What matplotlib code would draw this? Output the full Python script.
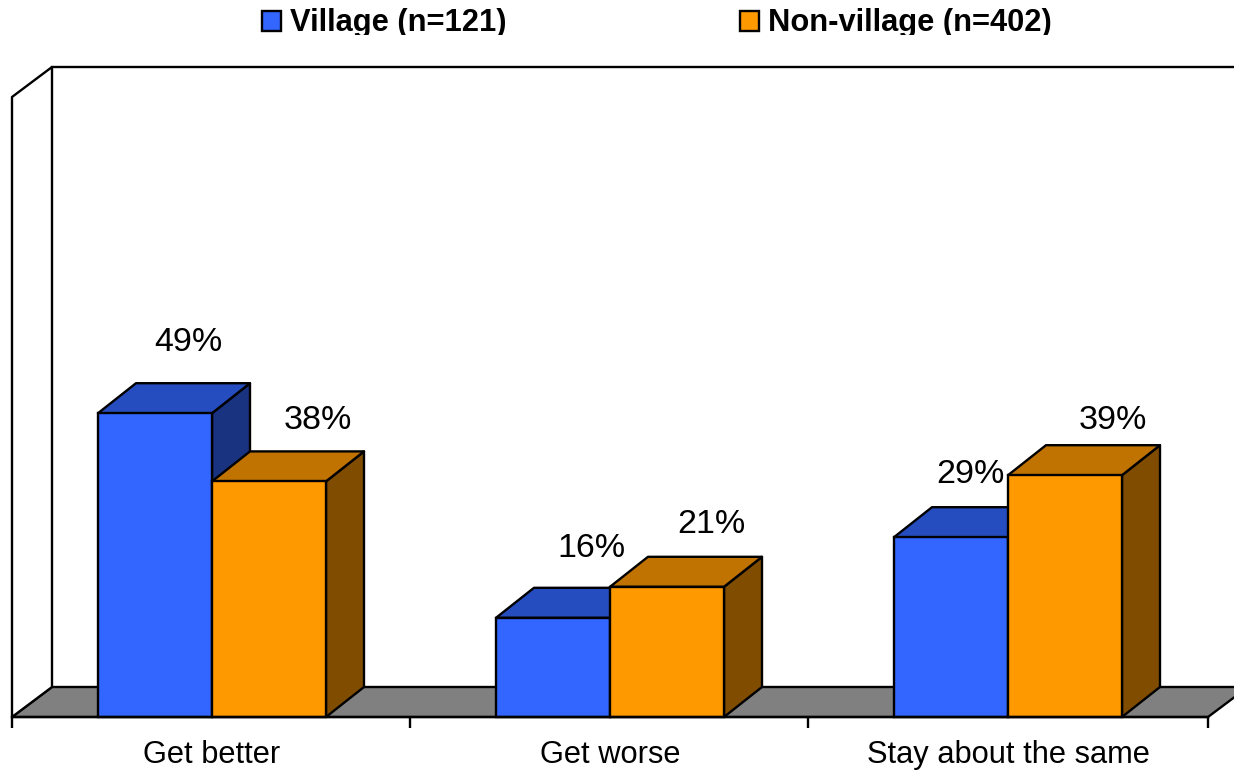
import matplotlib
matplotlib.use("Agg")
import matplotlib.pyplot as plt
import numpy as np
from matplotlib.patches import Polygon, Patch
from matplotlib.transforms import Bbox

categories = ["Get better", "Get worse", "Stay about the same"]
village = [49, 16, 29]
non_village = [38, 21, 39]
series_names = ["Village (n=121)", "Non-village (n=402)"]

W, H = 1234, 770
plt.rcParams["font.family"] = ["Liberation Sans", "DejaVu Sans"]
fig = plt.figure(figsize=(W / 100, H / 100), dpi=100)
ax = fig.add_axes([12 / W, (H - 717) / H, (1208 - 12) / W, (717 - 97) / H])

px_x = 1 / 398              # data units per pixel, x
px_y = 100 / (717 - 97)     # data units per pixel, y
x0, x1 = -200 * px_x, 996 * px_x
ax.set_xlim(x0, x1)
ax.set_ylim(0, 100)

LW = 1.7
wall_dx, wall_dy = 40 * px_x, 30 * px_y
bar_dx, bar_dy = 38 * px_x, 30 * px_y
bar_w = 114 * px_x


def face(points, color, z):
    ax.add_patch(Polygon(points, closed=True, facecolor=color, edgecolor="black",
                         linewidth=LW, clip_on=False, zorder=z, joinstyle="round"))


# floor and walls
face([(x0, 0), (x1, 0), (x1 + wall_dx, wall_dy), (x0 + wall_dx, wall_dy)], "#808080", 1)
face([(x0, 0), (x0 + wall_dx, wall_dy), (x0 + wall_dx, 100 + wall_dy), (x0, 100)], "white", 1)
ax.plot([x0 + wall_dx, x1 + wall_dx], [100 + wall_dy] * 2, color="black", lw=LW,
        clip_on=False, zorder=1)

# bars
colors = [("#3366FF", "#264DC0", "#1A3380"), ("#FF9900", "#C07300", "#804D00")]
positions = np.arange(len(categories))
label_offsets = [[(33, 71), (49, 61)], [(38, 69), (44, 62)], [(19, 63), (48, 55)]]

for s, (values, (front, top, side)) in enumerate(zip([village, non_village], colors)):
    offs = (s - 0.5) * bar_w
    z = 3 + s
    for i, v in enumerate(values):
        xl = positions[i] + offs - bar_w / 2
        xr = xl + bar_w
        face([(xr, 0), (xr + bar_dx, bar_dy), (xr + bar_dx, v + bar_dy), (xr, v)], side, z)
        face([(xl, v), (xr, v), (xr + bar_dx, v + bar_dy), (xl + bar_dx, v + bar_dy)], top, z)
    ax.bar(positions + offs, values, width=bar_w, color=front, edgecolor="black",
           linewidth=LW, clip_on=False, zorder=z, label=series_names[s])
    for i, v in enumerate(values):
        ax.annotate(f"{v}%", (positions[i] + offs, v),
                    xytext=label_offsets[i][s], textcoords="offset pixels",
                    ha="center", va="center", fontsize=24.5, color="black",
                    zorder=10, annotation_clip=False)

# axis
for name in ("top", "left", "right"):
    ax.spines[name].set_visible(False)
ax.spines["bottom"].set_linewidth(LW)
ax.spines["bottom"].set_zorder(6)
ax.patch.set_visible(False)
ax.set_yticks([])
ax.set_xticks([x0, x0 + 398 * px_x, x0 + 796 * px_x, x1])
ax.set_xticklabels([])
ax.set_xticks(positions, labels=categories, minor=True)
ax.tick_params(axis="x", which="major", length=8, width=LW, color="black")
ax.tick_params(axis="x", which="minor", length=0, labelsize=22.2, pad=16.5, labelcolor="black")

# legend
handles = [Patch(facecolor=colors[0][0], edgecolor="black", linewidth=LW, label=series_names[0]),
           Patch(facecolor=colors[1][0], edgecolor="black", linewidth=LW, label=series_names[1])]
leg = fig.legend(handles=handles, loc="upper left", bbox_to_anchor=(262 / W, 1 - 8 / H),
                 bbox_transform=fig.transFigure, ncol=2, frameon=False,
                 prop={"size": 22.25, "weight": "bold"}, borderpad=0, borderaxespad=0,
                 handlelength=0.62, handleheight=0.62, handletextpad=0.3,
                 columnspacing=7.53)
for h in leg.legend_handles:
    h.set_y(h.get_y() - 0.72)
clip = Bbox([[0, H - 34.5], [W, H]])
for t in leg.get_texts():
    t.set_clip_box(clip)
    t.set_clip_on(True)

fig.savefig("out.png", dpi=100)
